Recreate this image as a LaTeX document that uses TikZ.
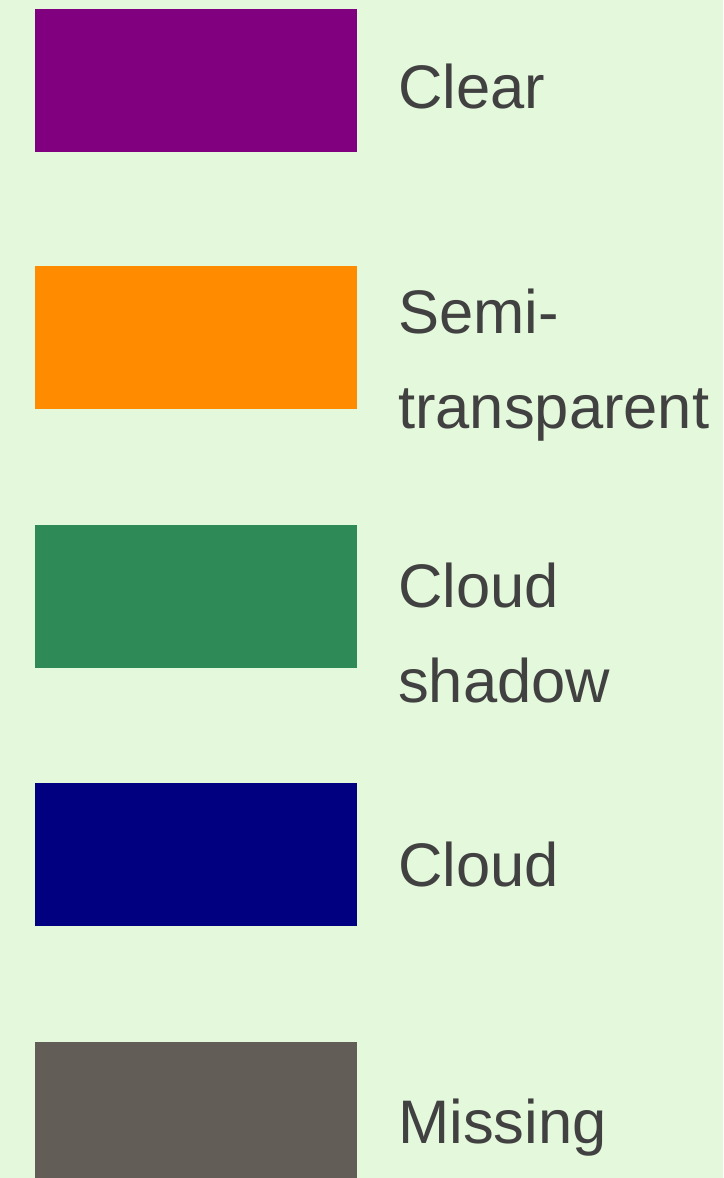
\documentclass[tikz,border=0pt]{standalone}
\usepackage{fontspec}
\setmainfont{Liberation Sans}
\definecolor{bg}{HTML}{E4F8DC}
\definecolor{txt}{HTML}{414141}
\definecolor{cclear}{HTML}{800080}
\definecolor{csemi}{HTML}{FF8C00}
\definecolor{cshadow}{HTML}{2E8B57}
\definecolor{ccloud}{HTML}{000080}
\definecolor{cmiss}{HTML}{625D57}
\begin{document}
\begin{tikzpicture}[x=1pt,y=-1pt,
  swatch/.style={fill=#1,draw=none,inner sep=0pt,minimum width=322pt,minimum height=143pt,anchor=north west},
  label/.style={text=txt,font=\fontsize{61.5}{95}\selectfont,anchor=base west,inner sep=0pt,align=left}]
\fill[bg] (0,0) rectangle (723,1178);
\useasboundingbox (0,0) rectangle (723,1178);
\node[swatch=cclear] (s1) at (35,9) {};
\node[swatch=csemi] (s2) at (35,266) {};
\node[swatch=cshadow] (s3) at (35,525) {};
\node[swatch=ccloud] (s4) at (35,783) {};
\begin{scope}
\clip (0,0) rectangle (723,1178);
\node[swatch=cmiss] (s5) at (35,1042) {};
\end{scope}
\node[label] (l1) at (398,108) {Clear};
\node[label] (l2) at (398,428) {Semi-\\transparent};
\node[label] (l3) at (398,702) {Cloud\\shadow};
\node[label] (l4) at (398,886) {Cloud};
\node[label] (l5) at (398,1143) {Missing};
\end{tikzpicture}
\end{document}
